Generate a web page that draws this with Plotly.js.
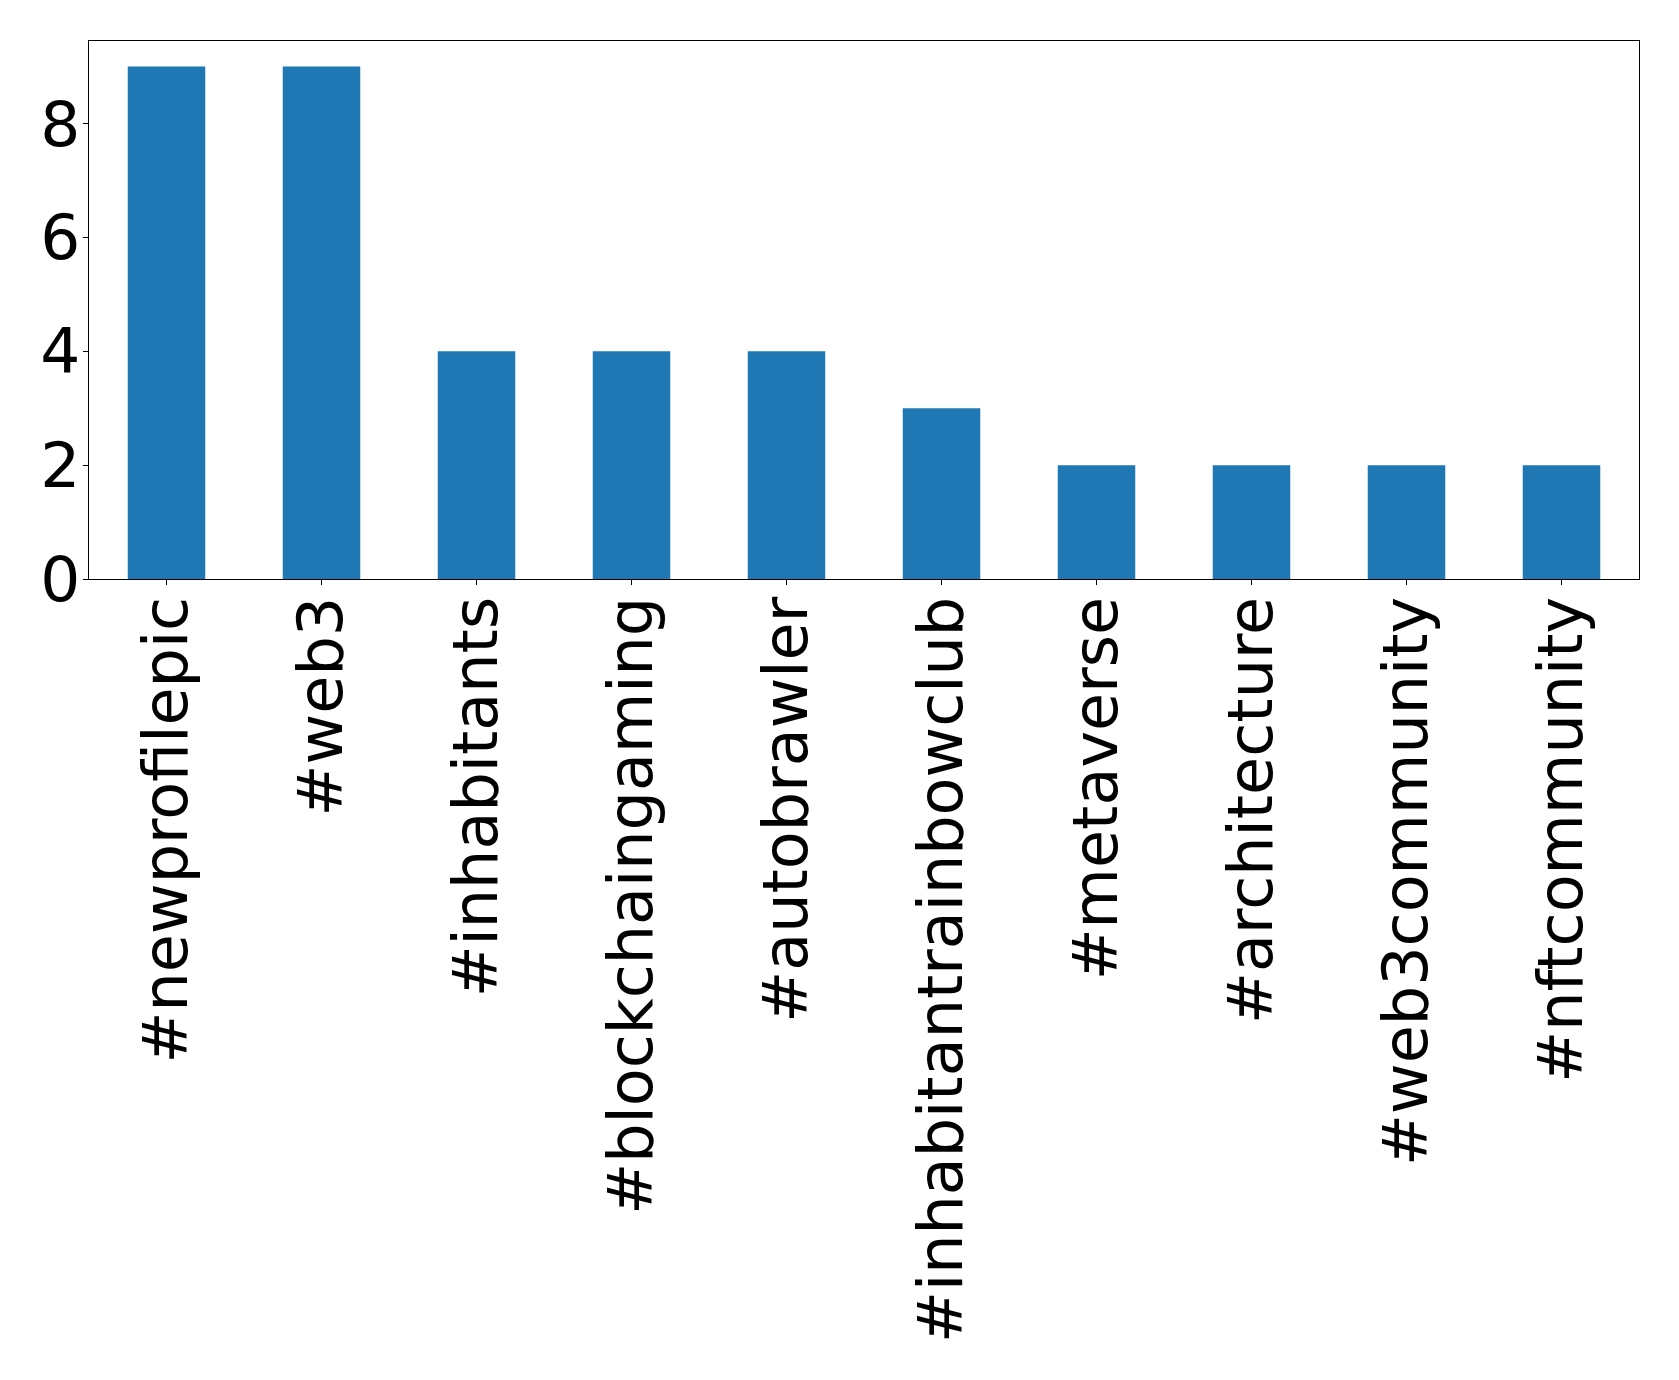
<!DOCTYPE html>
<html>
<head>
<meta charset="utf-8">
<script src="https://cdn.plot.ly/plotly-3.0.1.min.js"></script>
<style>html,body{margin:0;padding:0;background:#fff;}#chart{width:1679px;height:1380px;}</style>
</head>
<body>
<div id="chart"></div>
<script>
const hashtags = ["#newprofilepic", "#web3", "#inhabitants", "#blockchaingaming", "#autobrawler",
  "#inhabitantrainbowclub", "#metaverse", "#architecture", "#web3community", "#nftcommunity"];
const counts = [9, 9, 4, 4, 4, 3, 2, 2, 2, 2];
const yTicks = [0, 2, 4, 6, 8];

const xFont = {family: "DejaVu Sans", size: 62, color: "#000"};
const yFont = {family: "DejaVu Sans", size: 63, color: "#000"};
Plotly.newPlot("chart", [{
  type: "bar",
  x: hashtags,
  y: counts,
  width: 0.5,
  marker: {color: "#1f77b4", line: {width: 0}},
  hoverinfo: "x+y"
}], {
  width: 1679, height: 1380,
  margin: {l: 89, r: 40, t: 41, b: 801, pad: 0},
  paper_bgcolor: "#fff", plot_bgcolor: "#fff",
  showlegend: false,
  font: {family: "DejaVu Sans", color: "#000"},
  xaxis: {
    type: "category",
    range: [-0.5, 9.5],
    tickangle: -90,
    ticks: "outside", ticklen: 5, tickwidth: 1, tickcolor: "#000",
    showline: true, linecolor: "#000", linewidth: 1, mirror: true,
    showgrid: false, zeroline: false,
    tickfont: xFont, ticklabelstandoff: -13, automargin: false
  },
  yaxis: {
    range: [0, 9.45],
    tickvals: yTicks,
    ticktext: yTicks.map(String),
    ticks: "outside", ticklen: 5, tickwidth: 1, tickcolor: "#000",
    showline: true, linecolor: "#000", linewidth: 1, mirror: true,
    showgrid: false, zeroline: false,
    tickfont: yFont, ticklabelstandoff: -10, automargin: false
  }
}, {displayModeBar: false, staticPlot: true});
</script>
</body>
</html>
